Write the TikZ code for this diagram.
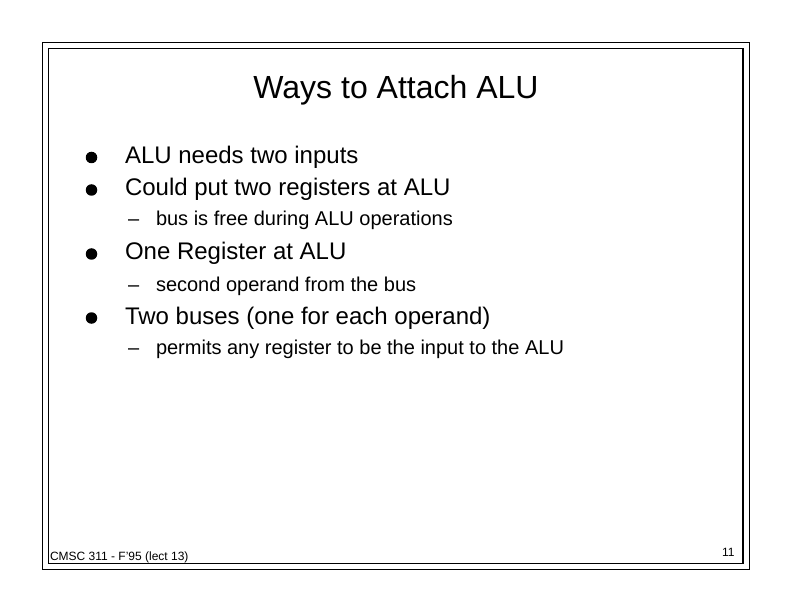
\documentclass[tikz,border=0pt]{standalone}
\usepackage{fontspec}
\setmainfont{Liberation Sans}
\begin{document}
\begin{tikzpicture}[x=1pt,y=-1pt,
  frame/.style={draw=black,line width=1.2pt},
  txt/.style={anchor=base west,inner sep=0pt,outer sep=0pt},
  bul/.style={fill=black,circle,inner sep=0pt,minimum size=11.5pt},
  titletxt/.style={anchor=base,inner sep=0pt,font=\fontsize{32}{36}\selectfont},
  lvlone/.style={txt,font=\fontsize{24}{28}\selectfont},
  lvltwo/.style={txt,font=\fontsize{20}{24}\selectfont},
  small/.style={txt,font=\fontsize{12}{14}\selectfont}]
\useasboundingbox (0,0) rectangle (792,612);
\draw[frame] (42.5,42.5) rectangle (749.5,569.5);
\draw[frame] (48.5,48.5) rectangle (743,563.5);
\node[titletxt] (title) at (396,98.5) {Ways to Attach ALU};
\node[bul] (b1) at (91.5,157.5) {};
\node[lvlone] (t1) at (125,163.5) {ALU needs two inputs};
\node[bul] (b2) at (91.5,190) {};
\node[lvlone] (t2) at (125,196) {Could put two registers at ALU};
\node[lvltwo] (d1) at (128,226) {–};
\node[lvltwo] (s1) at (156,226) {bus is free during ALU operations};
\node[bul] (b3) at (91.5,254) {};
\node[lvlone] (t3) at (125,260) {One Register at ALU};
\node[lvltwo] (d2) at (128,291) {–};
\node[lvltwo] (s2) at (156,291) {second operand from the bus};
\node[bul] (b4) at (91.5,318) {};
\node[lvlone] (t4) at (125,324) {Two buses (one for each operand)};
\node[lvltwo] (d3) at (128,354) {–};
\node[lvltwo] (s3) at (156,354) {permits any register to be the input to the ALU};
\node[small] (foot) at (50,560) {CMSC 311 - F'95 (lect 13)};
\node[small] (num) at (722,556) {11};
\end{tikzpicture}
\end{document}
